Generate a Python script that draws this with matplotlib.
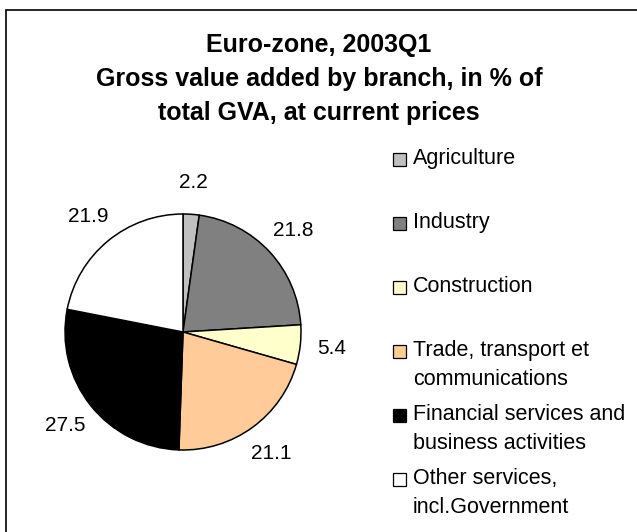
import matplotlib
matplotlib.use("Agg")
import matplotlib.pyplot as plt
from matplotlib.patches import Rectangle

plt.rcParams['font.family'] = ['Liberation Sans', 'DejaVu Sans']

# Datos
branches = ['Agriculture', 'Industry', 'Construction',
            'Trade, transport et\ncommunications',
            'Financial services and\nbusiness activities',
            'Other services,\nincl.Government']
shares = [2.2, 21.8, 5.4, 21.1, 27.5, 21.9]
colors = ['#C0C0C0', '#808080', '#FFFFCC', '#FFCC99', '#000000', '#FFFFFF']
title_lines = ['Euro-zone, 2003Q1',
               'Gross value added by branch, in % of',
               'total GVA, at current prices']

W, H = 637, 532
fig = plt.figure(figsize=(W / 100, H / 100), dpi=100)

# marco
fig.patches.append(Rectangle((6 / W, -0.05), 1.2, (H - 10) / H + 0.05,
                             transform=fig.transFigure, fill=False,
                             edgecolor='black', linewidth=1.2))

# pie: centro (183, 332) px, radio 118 px
cx, cy, r = 183, 332, 118
ax = fig.add_axes([(cx - r) / W, (H - cy - r) / H, 2 * r / W, 2 * r / H])
vals = iter(shares)
wedges, texts, autotexts = ax.pie(
    shares, colors=colors, startangle=90, counterclock=False,
    autopct=lambda p: '%.1f' % next(vals), pctdistance=1.27,
    wedgeprops=dict(edgecolor='black', linewidth=1.1),
    textprops=dict(fontsize=15, color='black'))
ax.set_xlim(-1, 1)
ax.set_ylim(-1, 1)
ax.set_aspect('equal')

# titulo
for i, line in enumerate(title_lines):
    fig.text(319 / W, 1 - (45 + 34 * i) / H, line, ha='center', va='center',
             fontsize=18, fontweight='bold')

# leyenda
for i, (lab, col) in enumerate(zip(branches, colors)):
    y = 159 + 64 * i
    fig.patches.append(Rectangle((393 / W, 1 - (y + 7) / H), 13 / W, 13 / H,
                                 transform=fig.transFigure, facecolor=col,
                                 edgecolor='black', linewidth=0.9))
    fig.text(413 / W, 1 - (y - 11) / H, lab, ha='left', va='top',
             fontsize=15.5, linespacing=1.48)

fig.savefig('out.png', dpi=100)
